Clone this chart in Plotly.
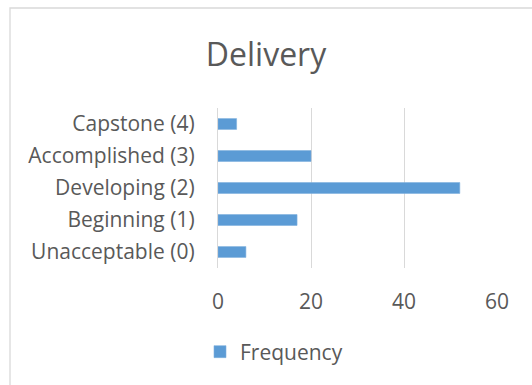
import plotly.graph_objects as go

categories = ["Unacceptable (0)", "Beginning (1)", "Developing (2)", "Accomplished (3)", "Capstone (4)"]
frequency = [6, 17, 52, 20, 4]
x_ticks = [0, 20, 40, 60]

W, H = 532, 385
L, R, T, B = 218, 35, 108, 117

fig = go.Figure()
fig.add_trace(go.Bar(
    y=categories, x=frequency, orientation="h", name="Frequency",
    marker=dict(color="#5B9BD5", line=dict(color="#7FB0DE", width=0.6)),
))

fig.update_layout(
    width=W, height=H,
    margin=dict(l=L, r=R, t=T, b=B, pad=0),
    paper_bgcolor="white", plot_bgcolor="white",
    bargap=0.66,
    font=dict(family="Open Sans", size=21, color="#595959"),
    title=dict(text="Delivery", x=0.5, xanchor="center", y=1 - 55 / H, yanchor="middle",
               font=dict(family="Open Sans", size=32, color="#595959")),
    xaxis=dict(range=[0, 60], tickvals=x_ticks, showgrid=True, gridcolor="#D9D9D9", gridwidth=1.3,
               zeroline=False, showline=False, ticks="", ticklabelstandoff=19,
               tickfont=dict(size=21, color="#595959")),
    yaxis=dict(categoryorder="array", categoryarray=categories, showgrid=False, zeroline=False,
               showline=True, linecolor="#D9D9D9", linewidth=1.3, ticks="", ticklabelstandoff=18,
               tickfont=dict(size=21, color="#595959")),
    showlegend=True,
    legend=dict(orientation="h", x=(200 - L) / (W - L - R), xanchor="left",
                y=-(352 - (H - B)) / (H - T - B), yanchor="middle",
                font=dict(size=21, color="#595959"), itemwidth=30, bgcolor="rgba(0,0,0,0)"),
)
fig.add_shape(type="rect", xref="paper", yref="paper",
              x0=(10 - L) / (W - L - R), x1=(W + 20 - L) / (W - L - R),
              y0=-(H + 20 - (H - B)) / (H - T - B), y1=1 + (T - 8) / (H - T - B),
              line=dict(color="#D9D9D9", width=1.3), fillcolor="rgba(0,0,0,0)", layer="below")

fig.write_html("out.html")
